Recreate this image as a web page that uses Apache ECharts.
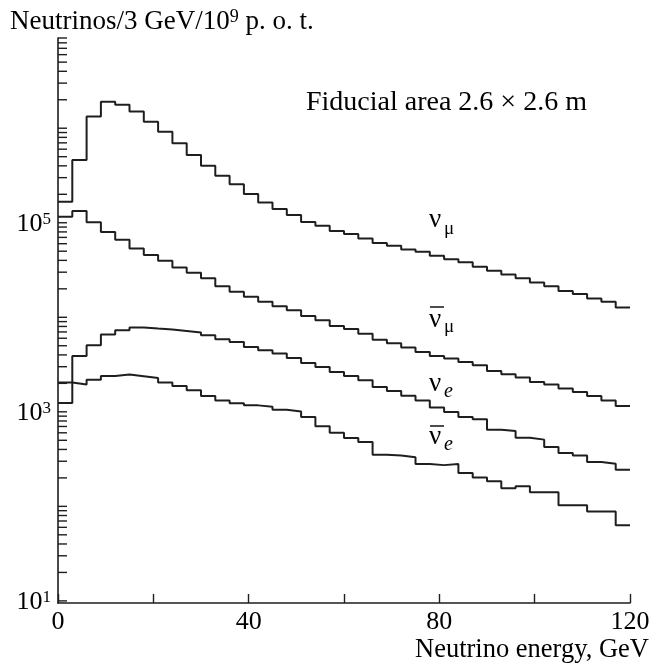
<!DOCTYPE html>
<html>
<head>
<meta charset="utf-8">
<script src="https://cdn.jsdelivr.net/npm/echarts@6/dist/echarts.min.js"></script>
<style>
  html, body { margin: 0; padding: 0; background: #ffffff; }
  #chart { width: 663px; height: 667px; }
</style>
</head>
<body>
<div id="chart"></div>
<script>
// Neutrino energy spectra, 3 GeV bins from 0 to 120 GeV
const binWidth = 3;
const energyMin = 0;
const energyMax = 120;

// neutrinos per 3 GeV per 1e9 protons on target, one value per bin
const numuFlux = [167000, 461000, 1330000, 1910000, 1770000, 1500000, 1170000, 920000, 693000, 521000,
  402000, 315000, 255000, 201000, 164000, 140000, 121000, 102000, 93000, 82000,
  76000, 68000, 61000, 57000, 52000, 49300, 44700, 41200, 38100, 34200,
  31000, 28400, 25800, 23400, 21300, 19000, 17600, 15800, 14600, 12700];

const numubarFlux = [116000, 133000, 101000, 80000, 66000, 53500, 45500, 39600, 33700, 29500,
  25800, 21300, 18600, 16500, 14600, 13100, 11900, 10300, 9300, 8100,
  7500, 6700, 5800, 5300, 4790, 4300, 3900, 3660, 3370, 3110,
  2700, 2500, 2300, 2070, 1950, 1760, 1620, 1470, 1320, 1150];

const nueFlux = [1240, 3900, 5060, 6580, 7300, 7800, 7600, 7430, 7180, 6900,
  6460, 5860, 5480, 4860, 4490, 4140, 3720, 3290, 2980, 2640,
  2390, 2160, 1830, 1660, 1480, 1320, 1110, 995, 881, 833,
  648, 626, 533, 508, 424, 366, 346, 294, 283, 244];

const nuebarFlux = [2040, 1950, 2190, 2390, 2480, 2380, 2280, 2040, 1880, 1690,
  1470, 1320, 1230, 1170, 1130, 1050, 1010, 881, 702, 602,
  528, 479, 352, 346, 330, 280, 273, 280, 226, 202,
  184, 155, 163, 141, 141, 103, 103, 88, 88, 63];

// axis labelling
const xTickStep = 20;
const xLabelStep = 40;
const yMin = 9.5;
const yMax = 9.0e6;
const yLabelExponents = [1, 3, 5];

const SERIF = '"Liberation Serif", "Times New Roman", "DejaVu Serif", serif';
const INK = '#1e1e1e';

// turn per-bin contents into step-line vertices (left edge of each bin, plus closing edge)
function histogramPoints(values) {
  const pts = values.map((v, i) => [energyMin + i * binWidth, v]);
  pts.push([energyMin + values.length * binWidth, values[values.length - 1]]);
  return pts;
}

// tick positions of the logarithmic axis: 1..9 x 10^k inside the axis range
const yTickValues = [];
for (let e = 0; e <= 7; e++) {
  for (let k = 1; k <= 9; k++) {
    const v = k * Math.pow(10, e);
    if (v >= yMin && v <= yMax * 1.0001) yTickValues.push([energyMin, v]);
  }
}
// decade labels 10^1, 10^3, 10^5
const yLabelValues = yLabelExponents.map(e => [energyMin, Math.pow(10, e), e]);

const supRich = {
  b: { fontFamily: SERIF, fontSize: 26, fill: '#000', lineHeight: 26 },
  sup: { fontFamily: SERIF, fontSize: 17, fill: '#000', lineHeight: 14, verticalAlign: 'top' }
};

function stepSeries(name, values) {
  return {
    name: name,
    type: 'line',
    step: 'end',
    data: histogramPoints(values),
    showSymbol: false,
    symbol: 'none',
    lineStyle: { color: INK, width: 2 },
    animation: false,
    z: 3
  };
}

const chart = echarts.init(document.getElementById('chart'), null, { renderer: 'canvas' });

chart.setOption({
  backgroundColor: '#ffffff',
  animation: false,
  grid: { left: 58, right: 33, top: 38, bottom: 64, containLabel: false },
  xAxis: {
    type: 'value',
    min: energyMin,
    max: energyMax,
    interval: xTickStep,
    axisLine: { show: true, onZero: false, lineStyle: { color: INK, width: 1.6 } },
    axisTick: { show: true, inside: true, length: 9, lineStyle: { color: INK, width: 1.4 } },
    axisLabel: {
      show: true,
      margin: 6,
      color: '#000',
      fontFamily: SERIF,
      fontSize: 26,
      formatter: v => (v % xLabelStep === 0 ? String(v) : '')
    },
    splitLine: { show: false }
  },
  yAxis: {
    type: 'log',
    logBase: 10,
    min: yMin,
    max: yMax,
    axisLine: { show: true, onZero: false, lineStyle: { color: INK, width: 1.6 } },
    axisTick: { show: false },
    minorTick: { show: false },
    splitLine: { show: false },
    axisLabel: { show: false }
  },
  series: [
    stepSeries('numu', numuFlux),
    stepSeries('numubar', numubarFlux),
    stepSeries('nue', nueFlux),
    stepSeries('nuebar', nuebarFlux),
    {
      name: 'yticks',
      type: 'custom',
      data: yTickValues,
      clip: false,
      silent: true,
      z: 4,
      renderItem: function (params, api) {
        const p = api.coord([api.value(0), api.value(1)]);
        return {
          type: 'line',
          shape: { x1: p[0], y1: p[1], x2: p[0] + 9, y2: p[1] },
          style: { stroke: INK, lineWidth: 1.4 }
        };
      }
    },
    {
      name: 'ylabels',
      type: 'custom',
      data: yLabelValues,
      clip: false,
      silent: true,
      z: 4,
      renderItem: function (params, api) {
        const p = api.coord([api.value(0), api.value(1)]);
        return {
          type: 'text',
          x: p[0] - 7,
          y: p[1] + 1,
          style: {
            text: '{b|10}{sup|' + api.value(2) + '}',
            rich: supRich,
            align: 'right',
            verticalAlign: 'middle'
          }
        };
      }
    }
  ],
  graphic: [
    {
      type: 'text', left: 10, top: 8,
      style: {
        text: '{b|Neutrinos/3 GeV/10}{sup|9}{b| p. o. t.}',
        rich: {
          b: { fontFamily: SERIF, fontSize: 27, fill: '#000', lineHeight: 27 },
          sup: { fontFamily: SERIF, fontSize: 18, fill: '#000', lineHeight: 14, verticalAlign: 'top' }
        }
      }
    },
    {
      type: 'text', x: 306, y: 103,
      style: { text: 'Fiducial area 2.6 \u00d7 2.6 m', font: '28px ' + SERIF, fill: '#000', verticalAlign: 'middle', align: 'left' }
    },
    {
      type: 'text', x: 649, y: 650,
      style: { text: 'Neutrino energy, GeV', font: '26.5px ' + SERIF, fill: '#000', verticalAlign: 'middle', align: 'right' }
    },
    // series labels
    { type: 'text', x: 429, y: 220, style: { text: '\u03bd', font: '27px ' + SERIF, fill: '#000', verticalAlign: 'middle' } },
    { type: 'text', x: 444, y: 229, style: { text: '\u03bc', font: '19px ' + SERIF, fill: '#000', verticalAlign: 'middle' } },

    { type: 'line', shape: { x1: 430, y1: 307, x2: 444, y2: 307 }, style: { stroke: '#000', lineWidth: 1.4 } },
    { type: 'text', x: 429, y: 320, style: { text: '\u03bd', font: '27px ' + SERIF, fill: '#000', verticalAlign: 'middle' } },
    { type: 'text', x: 444, y: 327, style: { text: '\u03bc', font: '19px ' + SERIF, fill: '#000', verticalAlign: 'middle' } },

    { type: 'text', x: 429, y: 384, style: { text: '\u03bd', font: '27px ' + SERIF, fill: '#000', verticalAlign: 'middle' } },
    { type: 'text', x: 444, y: 392, style: { text: 'e', font: 'italic 20px ' + SERIF, fill: '#000', verticalAlign: 'middle' } },

    { type: 'line', shape: { x1: 430, y1: 426, x2: 444, y2: 426 }, style: { stroke: '#000', lineWidth: 1.4 } },
    { type: 'text', x: 429, y: 437, style: { text: '\u03bd', font: '27px ' + SERIF, fill: '#000', verticalAlign: 'middle' } },
    { type: 'text', x: 444, y: 445, style: { text: 'e', font: 'italic 20px ' + SERIF, fill: '#000', verticalAlign: 'middle' } }
  ]
});
</script>
</body>
</html>
